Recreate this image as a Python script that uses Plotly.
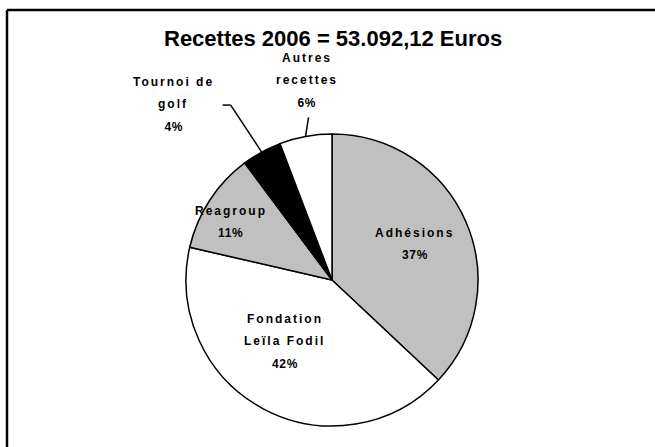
import math
import plotly.graph_objects as go

# ---- data (percent of 2006 receipts) ----
categories = ["Adhésions", "Fondation Leïla Fodil", "Reagroup", "Tournoi de golf", "Autres recettes"]
label_lines = [["Adhésions"], ["Fondation", "Leïla Fodil"], ["Reagroup"], ["Tournoi de", "golf"], ["Autres", "recettes"]]
values = [37.0, 41.6, 11.2, 4.4, 5.8]
colors = ["#C0C0C0", "#FFFFFF", "#C0C0C0", "#000000", "#FFFFFF"]
title_text = "Recettes 2006 = 53.092,12 Euros"

W, H = 655, 447
ML, MT = 7, 10
PW, PH = W - ML, H - MT
CX, CY, R = 332, 280, 146  # pie centre/radius in page px (layout)
LINE = 22.5                # label line spacing, px


def px_to_paper(px, py):
    return (px - ML) / PW, (H - py) / PH


dx0, dy0 = px_to_paper(CX - R, CY + R)
dx1, dy1 = px_to_paper(CX + R, CY - R)

fig = go.Figure()
fig.add_trace(go.Pie(
    labels=categories,
    values=values,
    sort=False,
    direction="clockwise",
    rotation=0,
    marker=dict(colors=colors, line=dict(color="#000000", width=1.5)),
    textinfo="none",
    hoverinfo="label+percent",
    showlegend=False,
    domain=dict(x=[dx0, dx1], y=[dy0, dy1]),
))

total = sum(values)
cum = 0
mids = []
for v in values:
    mids.append((cum + v / 2) / total * 2 * math.pi)
    cum += v

lab_font = dict(family="Liberation Sans, Arial, sans-serif", size=12, color="#000000", weight="bold")
annotations = []
shapes = []


def add_block(lines, cx, cy):
    n = len(lines)
    for k, t in enumerate(lines):
        y_px = cy + (k - (n - 1) / 2) * LINE
        x, y = px_to_paper(cx, y_px)
        annotations.append(dict(x=x, y=y, xref="paper", yref="paper", showarrow=False,
                                text=t, font=lab_font, xanchor="center", yanchor="middle"))


# inside labels: (radial fraction, angular tweak in rad) are style choices
inside_pos = {0: (0.62, 0.0), 1: (0.53, 0.17), 2: (0.80, -0.06)}
for i, (f, da) in inside_pos.items():
    a = mids[i] + da
    px = CX + f * R * math.sin(a)
    py = CY - f * R * math.cos(a)
    pct = round(values[i] / total * 100)
    add_block(label_lines[i] + [f"{pct}%"], px, py)

# outside labels: block offset and leader tail offset relative to the slice edge point
outside = {
    3: dict(block=(-88, -48), tail=(-31, -47), tick=-8),
    4: dict(block=(1, -56), tail=(3, -19), tick=0),
}
for i, o in outside.items():
    a = mids[i]
    ex = CX + R * math.sin(a)
    ey = CY - R * math.cos(a)
    pct = round(values[i] / total * 100)
    add_block(label_lines[i] + [f"{pct}%"], ex + o["block"][0], ey + o["block"][1])
    tx, ty = ex + o["tail"][0], ey + o["tail"][1]
    x0, y0 = px_to_paper(ex, ey)
    x1, y1 = px_to_paper(tx, ty)
    shapes.append(dict(type="line", xref="paper", yref="paper", x0=x0, y0=y0, x1=x1, y1=y1,
                       line=dict(color="#000000", width=1.5)))
    if o["tick"]:
        x2, _ = px_to_paper(tx + o["tick"], ty)
        shapes.append(dict(type="line", xref="paper", yref="paper", x0=x1, y0=y1, x1=x2, y1=y1,
                           line=dict(color="#000000", width=1.5)))

# title
tx, ty = px_to_paper(333, 38)
annotations.append(dict(
    x=tx, y=ty, xref="paper", yref="paper", showarrow=False,
    text=title_text, xanchor="center", yanchor="middle",
    font=dict(family="Liberation Sans Narrow, Arial Narrow, Liberation Sans, Arial", size=22,
              color="#000000", weight="bold")))

# frame lines (top and left only)
shapes += [
    dict(type="line", xref="paper", yref="paper", x0=0, x1=1.02, y0=1, y1=1,
         line=dict(color="#000000", width=2.5)),
    dict(type="line", xref="paper", yref="paper", x0=0, x1=0, y0=-0.05, y1=1,
         line=dict(color="#000000", width=2.5)),
]

fig.update_layout(
    width=W, height=H,
    margin=dict(l=ML, r=0, t=MT, b=0),
    paper_bgcolor="#FFFFFF",
    plot_bgcolor="#FFFFFF",
    annotations=annotations,
    shapes=shapes,
)

post = """
document.body.style.margin = '0';
document.querySelectorAll('.annotation-text').forEach(function(t){
  var s = t.textContent;
  if (s.indexOf('Recettes') === 0) return;
  t.style.letterSpacing = (s.slice(-1) === '%') ? '0.6px' : '2px';
});
"""

fig.write_html("out.html", post_script=post, config={"displayModeBar": False})
